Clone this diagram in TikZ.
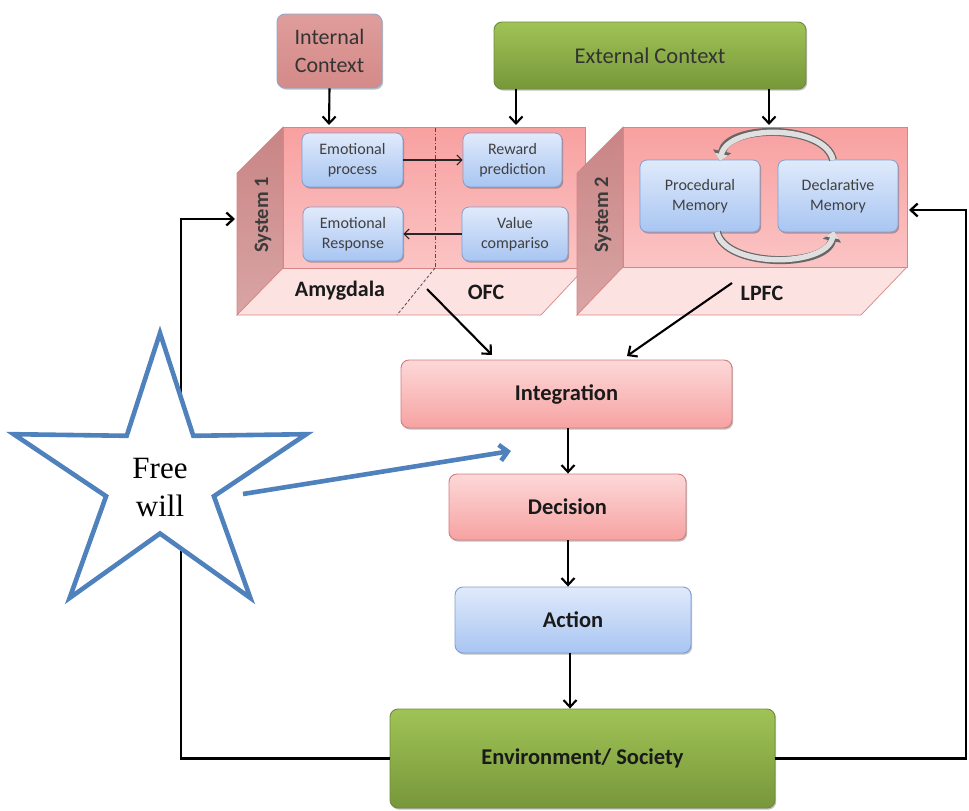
\documentclass[tikz,border=0pt]{standalone}
\usepackage{fontspec}
\setmainfont{Carlito}
\newfontfamily\serifw{Liberation Serif}
\usetikzlibrary{arrows.meta,shadows}
\definecolor{pinkT}{HTML}{FDD8D8}
\definecolor{pinkB}{HTML}{F7A2A2}
\definecolor{pinkE}{HTML}{D47A7A}
\definecolor{blueT}{HTML}{E0EAFB}
\definecolor{blueB}{HTML}{A8C5F2}
\definecolor{blueE}{HTML}{7F9FD0}
\definecolor{greenT}{HTML}{A0C356}
\definecolor{greenB}{HTML}{77973A}
\definecolor{greenE}{HTML}{6E8B3D}
\definecolor{starblue}{HTML}{4F81BD}
\definecolor{intT}{HTML}{DE9D9B}
\definecolor{intB}{HTML}{D48A88}
\definecolor{intE}{HTML}{8EA6D2}
\definecolor{frontT}{HTML}{F8A0A0}
\definecolor{frontB}{HTML}{FBC4C4}
\definecolor{sideT}{HTML}{C98484}
\definecolor{sideB}{HTML}{D9A5A5}
\definecolor{botF}{HTML}{FDE2E2}
\definecolor{faceE}{HTML}{D98585}
\definecolor{txtg}{HTML}{404040}
\definecolor{txtd}{HTML}{1A1A1A}
\begin{document}
\begin{tikzpicture}[x=1pt,y=-1pt,
  shad/.style={drop shadow={shadow xshift=1.2pt,shadow yshift=-1.6pt,opacity=0.25,fill=black}},
  bigbox/.style={rounded corners=8pt,draw,line width=0.9pt,inner sep=0pt,align=center,text=txtd,shad},
  pinkbox/.style={bigbox,top color=pinkT,bottom color=pinkB,draw=pinkE,font=\fontsize{22.5}{26}\selectfont\bfseries},
  bluebox/.style={bigbox,top color=blueT,bottom color=blueB,draw=blueE,font=\fontsize{22.5}{26}\selectfont\bfseries},
  greenbox/.style={bigbox,top color=greenT,bottom color=greenB,draw=greenE,font=\fontsize{22.5}{26}\selectfont\bfseries},
  smallbox/.style={rounded corners=7pt,draw=blueE,line width=0.8pt,top color=blueT,bottom color=blueB,inner sep=0pt,align=center,text=txtg,font=\fontsize{16}{20}\selectfont,shad},
  arr/.style={-{Straight Barb[length=7pt,width=13pt]},line width=2.1pt,black},
  thinarr/.style={-{Straight Barb[length=5pt,width=10pt]},line width=1.1pt,black!85},
  front/.style={top color=frontT,bottom color=frontB,draw=faceE,line width=0.7pt},
  side/.style={top color=sideT,bottom color=sideB,draw=faceE,line width=0.7pt},
  bottom/.style={fill=botF,draw=faceE,line width=0.7pt},
  facelabel/.style={font=\fontsize{22}{24}\selectfont\bfseries,text=txtd},
  syslabel/.style={font=\fontsize{20.5}{22}\selectfont\bfseries,text=txtd!85,rotate=90},
  cyc/.style={line width=8pt,draw=black!60,-{Triangle[length=10pt,width=18pt]}},
  cycin/.style={line width=5.4pt,draw=black!12,-{Triangle[length=7pt,width=13pt]}}
]
\useasboundingbox (0,0) rectangle (969,811);

% ---- top context boxes
\node[bigbox,top color=intT,bottom color=intB,draw=intE,minimum width=105pt,minimum height=74pt,
  font=\fontsize{22}{28}\selectfont,text=black!80] (intctx) at (329.5,51) {Internal\\Context};
\node[greenbox,minimum width=312pt,minimum height=67pt,font=\fontsize{22.5}{26}\selectfont,text=black!80] (extctx) at (650,55.5) {External Context};

% ---- System 1 block
\path[side] (283,127) -- (237,173) -- (237,315) -- (283,268) -- cycle;
\path[bottom] (283,268) -- (585,268) -- (541,315) -- (237,315) -- cycle;
\path[front] (283,127) rectangle (585,268);
\draw[black!70,line width=0.8pt,dash pattern=on 4pt off 2pt on 1pt off 2pt] (435,128) -- (435,268);
\draw[black!70,line width=0.8pt,dash pattern=on 3pt off 2pt] (435,268) -- (397,315);
\node[syslabel] (sys1) at (263,215) {System 1};
\node[facelabel] (amy) at (340,291) {Amygdala};
\node[facelabel] (ofc) at (486,292) {OFC};

% ---- System 2 block
\path[side] (623,127) -- (577,173) -- (577,315) -- (623,267) -- cycle;
\path[bottom] (623,267) -- (907,267) -- (861,315) -- (577,315) -- cycle;
\path[front] (623,127) rectangle (907,267);
\node[syslabel] (sys2) at (603,215) {System 2};
\node[facelabel] (lpfc) at (762,293) {LPFC};

% ---- inner boxes
\node[smallbox,minimum width=101pt,minimum height=54pt] (emo) at (352.5,160) {Emotional\\process};
\node[smallbox,minimum width=99pt,minimum height=54pt] (rew) at (512.5,160) {Reward\\prediction};
\node[smallbox,minimum width=100pt,minimum height=54pt] (eresp) at (353,234) {Emotional\\Response};
\node[smallbox,minimum width=106pt,minimum height=54pt] (valc) at (515,234) {Value\\compariso};
\node[smallbox,minimum width=120pt,minimum height=72pt] (proc) at (700,196) {Procedural\\Memory};
\node[smallbox,minimum width=120pt,minimum height=72pt] (decl) at (838,196) {Declarative\\Memory};

\draw[thinarr] (emo.east) -- (rew.west);
\draw[thinarr] (valc.west) -- (eresp.east);

% cycle arrows in System 2
\coordinate (ct1) at (833,160);
\coordinate (ct2) at (720,161);
\coordinate (cb1) at (717,232);
\coordinate (cb2) at (834,231);
\draw[cyc] (ct1) .. controls (825,124) and (728,124) .. (ct2);
\draw[cycin] (ct1) .. controls (825,124) and (728,124) .. (ct2);
\draw[cyc] (cb1) .. controls (725,268) and (826,268) .. (cb2);
\draw[cycin] (cb1) .. controls (725,268) and (826,268) .. (cb2);

% ---- main column
\node[pinkbox,minimum width=331pt,minimum height=68pt] (integ) at (566.5,394) {Integration};
\node[pinkbox,minimum width=237pt,minimum height=66pt] (decis) at (567.5,507) {Decision};
\node[bluebox,minimum width=236pt,minimum height=66pt] (action) at (573,620) {Action};
\node[greenbox,minimum width=385pt,minimum height=99pt] (env) at (582.5,758.5) {Environment/ Society};

% ---- arrows
\coordinate (s1in) at (329,125);
\coordinate (ea) at (516,125);
\coordinate (eb) at (769,125);
\draw[arr] (intctx.south) -- (s1in);
\draw[arr] (ea |- extctx.south) -- (ea);
\draw[arr] (eb |- extctx.south) -- (eb);

\coordinate (s1out) at (427,289);
\coordinate (s2out) at (732,283);
\draw[arr] (s1out) -- (492,355);
\draw[arr] (s2out) -- (627,356);

\coordinate (m1) at (568,0);
\coordinate (m2) at (570,0);
\draw[arr] (m1 |- integ.south) -- (m1 |- decis.north);
\draw[arr] (m1 |- decis.south) -- (m1 |- action.north);
\draw[arr] (m2 |- action.south) -- (m2 |- env.north);

% feedback loops
\coordinate (lc) at (181,758.5);
\coordinate (s1l) at (235,219);
\coordinate (rc) at (966,758.5);
\coordinate (s2r) at (909,210);
\draw[arr,line width=2.3pt] (env.west) -- (lc) |- (s1l);
\draw[arr,line width=2.3pt] (env.east) -- (rc) |- (s2r);

% ---- star
\draw[starblue,fill=white,line width=4.6pt,line join=miter,miter limit=10]
  (160,333) -- (193.3,435.8) -- (306.3,434.2) -- (213.9,496.2) -- (250.4,598)
  -- (160,533.5) -- (69.6,598) -- (106.1,496.2) -- (13.7,434.2) -- (126.7,435.8) -- cycle;
\node[font=\serifw\fontsize{31}{38}\selectfont,align=center,text=black] (fw) at (160,487) {Free\\will};
\coordinate (starR) at (243,494);
\coordinate (fwtip) at (511,451);
\draw[starblue,line width=4.6pt,-{Straight Barb[length=8pt,width=16pt]}] (starR) -- (fwtip);
\end{tikzpicture}
\end{document}
